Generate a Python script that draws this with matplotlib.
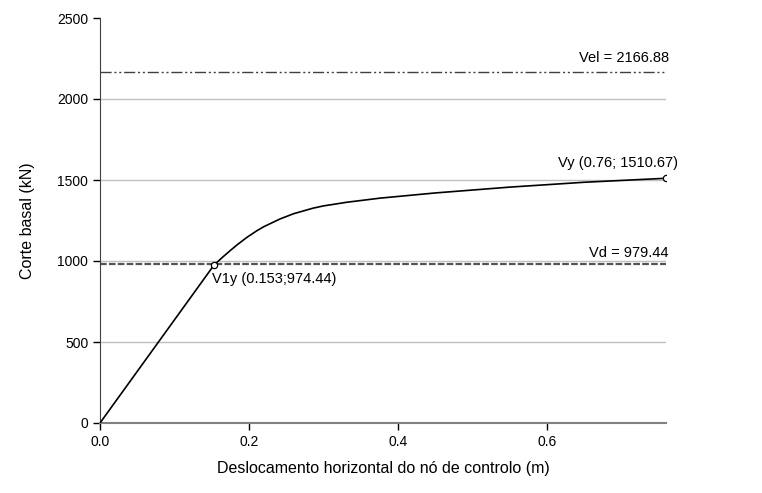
import matplotlib
matplotlib.use("Agg")
import matplotlib.pyplot as plt

plt.rcParams['font.family'] = ['Liberation Sans', 'DejaVu Sans']

# Data
disp = [0.0, 0.153, 0.165, 0.175, 0.185, 0.197, 0.21, 0.22, 0.242, 0.26, 0.286,
        0.30, 0.332, 0.376, 0.45, 0.55, 0.65, 0.76]
shear = [0.0, 974.44, 1025, 1065, 1103, 1145, 1185, 1212, 1260, 1292, 1326,
         1340, 1363, 1388, 1420, 1456, 1486, 1510.67]

vel = 2166.88
vd = 979.44
v1y = (0.153, 974.44)
vy = (0.76, 1510.67)

yticks = [0, 500, 1000, 1500, 2000, 2500]
xticks = [0.0, 0.2, 0.4, 0.6]

fig = plt.figure(figsize=(7.62, 4.93), dpi=100)
ax = fig.add_axes([100/762, 1-423/493, 566/762, 405/493])

for yv in yticks[1:-1]:
    ax.axhline(yv, color='#c0c0c0', lw=1.0, zorder=1)

ax.axhline(vel, color='#404040', lw=1.0, dashes=(8, 2, 1.5, 2, 1.5, 2), zorder=2)
ax.axhline(vd, color='#555555', lw=1.6, dashes=(3, 1), zorder=2)

ax.plot(disp, shear, color='black', lw=1.2, zorder=3)
ax.plot([v1y[0], vy[0]], [v1y[1], vy[1]], 'o', ms=4.5, mfc='white', mec='black',
        mew=0.9, zorder=4, ls='none')

ax.set_xlim(0, 0.76)
ax.set_ylim(0, 2500)
ax.set_xticks(xticks)
ax.set_xticklabels(['0.0', '0.2', '0.4', '0.6'])
ax.set_yticks(yticks)
ax.tick_params(direction='out', length=5, labelsize=10, width=1, colors='black')
for s in ['top', 'right']:
    ax.spines[s].set_visible(False)
ax.spines['left'].set_color('#404040')
ax.spines['bottom'].set_color('#808080')
ax.spines['bottom'].set_linewidth(1.5)

ax.text(0.764, vel + 40, f'Vel = {vel:.2f}', ha='right', va='bottom', fontsize=10.5)
ax.text(0.764, vd + 25, f'Vd = {vd:.2f}', ha='right', va='bottom', fontsize=10.5)
ax.text(v1y[0] - 0.002, v1y[1] - 45, f'V1y ({v1y[0]:.3f};{v1y[1]:.2f})', ha='left', va='top', fontsize=10.5)
ax.text(vy[0] + 0.016, vy[1] + 50, f'Vy ({vy[0]:.2f}; {vy[1]:.2f})', ha='right', va='bottom', fontsize=10.5)

ax.set_xlabel('Deslocamento horizontal do nó de controlo (m)', fontsize=11.5, labelpad=9)
ax.set_ylabel('Corte basal (kN)', fontsize=11.5, labelpad=16)

fig.savefig('out.png', dpi=100)
